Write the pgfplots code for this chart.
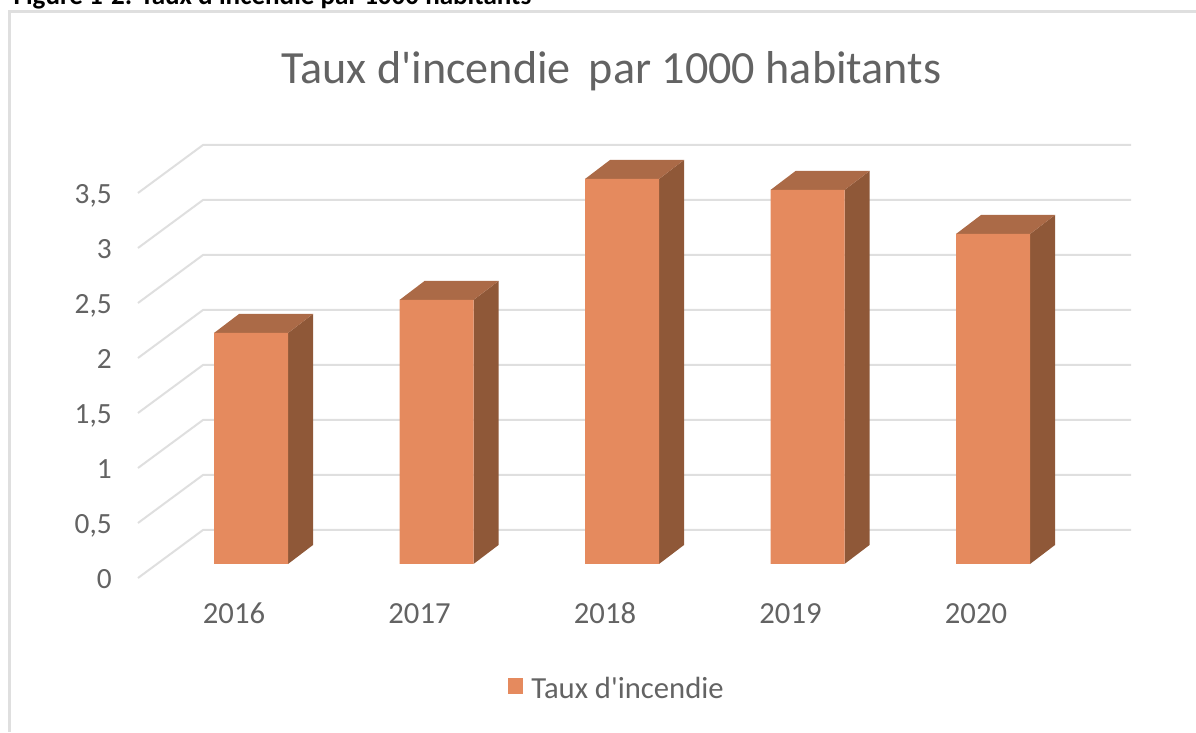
\documentclass[border=0pt]{standalone}
\usepackage{pgfplots}
\pgfplotsset{compat=1.18}
\usepackage{fontspec}
\setmainfont{Carlito}
\newfontfamily\apfont{Carlito}
\newcommand\ap{{\apfont\char39 }}
\definecolor{front}{HTML}{E58A5E}
\definecolor{topf}{HTML}{AB6A47}
\definecolor{sidef}{HTML}{8F5838}
\definecolor{gridc}{HTML}{DFDFDF}
\definecolor{txt}{HTML}{636363}
\begin{document}
\begin{tikzpicture}
\clip (0,0) rectangle (897pt,549pt);
\begin{axis}[
  at={(0,0)}, anchor=south west,
  scale only axis, width=897pt, height=549pt,
  xmin=-1.3531, xmax=5.0943, ymin=-1.5273, ymax=5.1273,
  axis line style={draw=none}, tick style={draw=none}, clip=false,
  xtick={0,1,2,3,4}, xticklabels={2016,2017,2018,2019,2020},
  ytick={-0.1273,0.3727,0.8727,1.3727,1.8727,2.3727,2.8727,3.3727},
  yticklabels={0,{0,5},1,{1,5},2,{2,5},3,{3,5}},
  yticklabel style={anchor=base east, inner sep=0pt, xshift=84pt, yshift=-8pt, text=txt, font=\fontsize{22}{22}\selectfont},
  xticklabel style={anchor=base, inner sep=0pt, xshift=-12.75pt, yshift=81pt, text=txt, font=\fontsize{23}{23}\selectfont},
  legend style={at={(0.5159,0.0587)}, anchor=center, draw=none, fill=none, font=\fontsize{23}{23}\selectfont, text=txt, legend cell align=left},
  legend image code/.code={\fill[front] (0cm,-0.13cm) rectangle (0.42cm,0.29cm);\path (0.56cm,0);},
]
% grid
\addplot[gridc,line width=1.5pt,forget plot] coordinates {(-0.6092,-0.1273) (-0.2588,0.3091) (4.7439,0.3091)};
\addplot[gridc,line width=1.5pt,forget plot] coordinates {(-0.6092,0.3727) (-0.2588,0.8091) (4.7439,0.8091)};
\addplot[gridc,line width=1.5pt,forget plot] coordinates {(-0.6092,0.8727) (-0.2588,1.3091) (4.7439,1.3091)};
\addplot[gridc,line width=1.5pt,forget plot] coordinates {(-0.6092,1.3727) (-0.2588,1.8091) (4.7439,1.8091)};
\addplot[gridc,line width=1.5pt,forget plot] coordinates {(-0.6092,1.8727) (-0.2588,2.3091) (4.7439,2.3091)};
\addplot[gridc,line width=1.5pt,forget plot] coordinates {(-0.6092,2.3727) (-0.2588,2.8091) (4.7439,2.8091)};
\addplot[gridc,line width=1.5pt,forget plot] coordinates {(-0.6092,2.8727) (-0.2588,3.3091) (4.7439,3.3091)};
\addplot[gridc,line width=1.5pt,forget plot] coordinates {(-0.6092,3.3727) (-0.2588,3.8091) (4.7439,3.8091)};
% side faces
\addplot[fill=sidef,draw=none,forget plot] coordinates {(0.1995,0) (0.3343,0.1727) (0.3343,2.2727) (0.1995,2.1)} -- cycle;
\addplot[fill=sidef,draw=none,forget plot] coordinates {(1.1995,0) (1.3343,0.1727) (1.3343,2.5727) (1.1995,2.4)} -- cycle;
\addplot[fill=sidef,draw=none,forget plot] coordinates {(2.1995,0) (2.3343,0.1727) (2.3343,3.6727) (2.1995,3.5)} -- cycle;
\addplot[fill=sidef,draw=none,forget plot] coordinates {(3.1995,0) (3.3343,0.1727) (3.3343,3.5727) (3.1995,3.4)} -- cycle;
\addplot[fill=sidef,draw=none,forget plot] coordinates {(4.1995,0) (4.3343,0.1727) (4.3343,3.1727) (4.1995,3.0)} -- cycle;
% top faces
\addplot[fill=topf,draw=none,forget plot] coordinates {(-0.1995,2.1) (0.1995,2.1) (0.3343,2.2727) (-0.0647,2.2727)} -- cycle;
\addplot[fill=topf,draw=none,forget plot] coordinates {(0.8005,2.4) (1.1995,2.4) (1.3343,2.5727) (0.9353,2.5727)} -- cycle;
\addplot[fill=topf,draw=none,forget plot] coordinates {(1.8005,3.5) (2.1995,3.5) (2.3343,3.6727) (1.9353,3.6727)} -- cycle;
\addplot[fill=topf,draw=none,forget plot] coordinates {(2.8005,3.4) (3.1995,3.4) (3.3343,3.5727) (2.9353,3.5727)} -- cycle;
\addplot[fill=topf,draw=none,forget plot] coordinates {(3.8005,3.0) (4.1995,3.0) (4.3343,3.1727) (3.9353,3.1727)} -- cycle;
% front faces
\addplot[ybar,bar width=55.5pt,fill=front,draw=none] coordinates {(0,2.1) (1,2.4) (2,3.5) (3,3.4) (4,3.0)};
\addlegendentry{Taux d\ap incendie}
\end{axis}
% frame and captions
\fill[gridc] (6pt,0) rectangle (8.2pt,541.5pt);
\fill[gridc] (6pt,539.25pt) rectangle (897pt,541.5pt);
\node[anchor=center,text=txt,font=\fontsize{34.6}{34.6}\selectfont] at (458.6pt,495.5pt) {Taux d\ap incendie\, par 1000 habitants};
\node[anchor=base west,inner sep=0pt,font=\bfseries\fontsize{20.3}{20.3}\selectfont] at (10pt,545.6pt) {Figure 1-2: Taux d\ap incendie par 1000 habitants};
\end{tikzpicture}
\end{document}
